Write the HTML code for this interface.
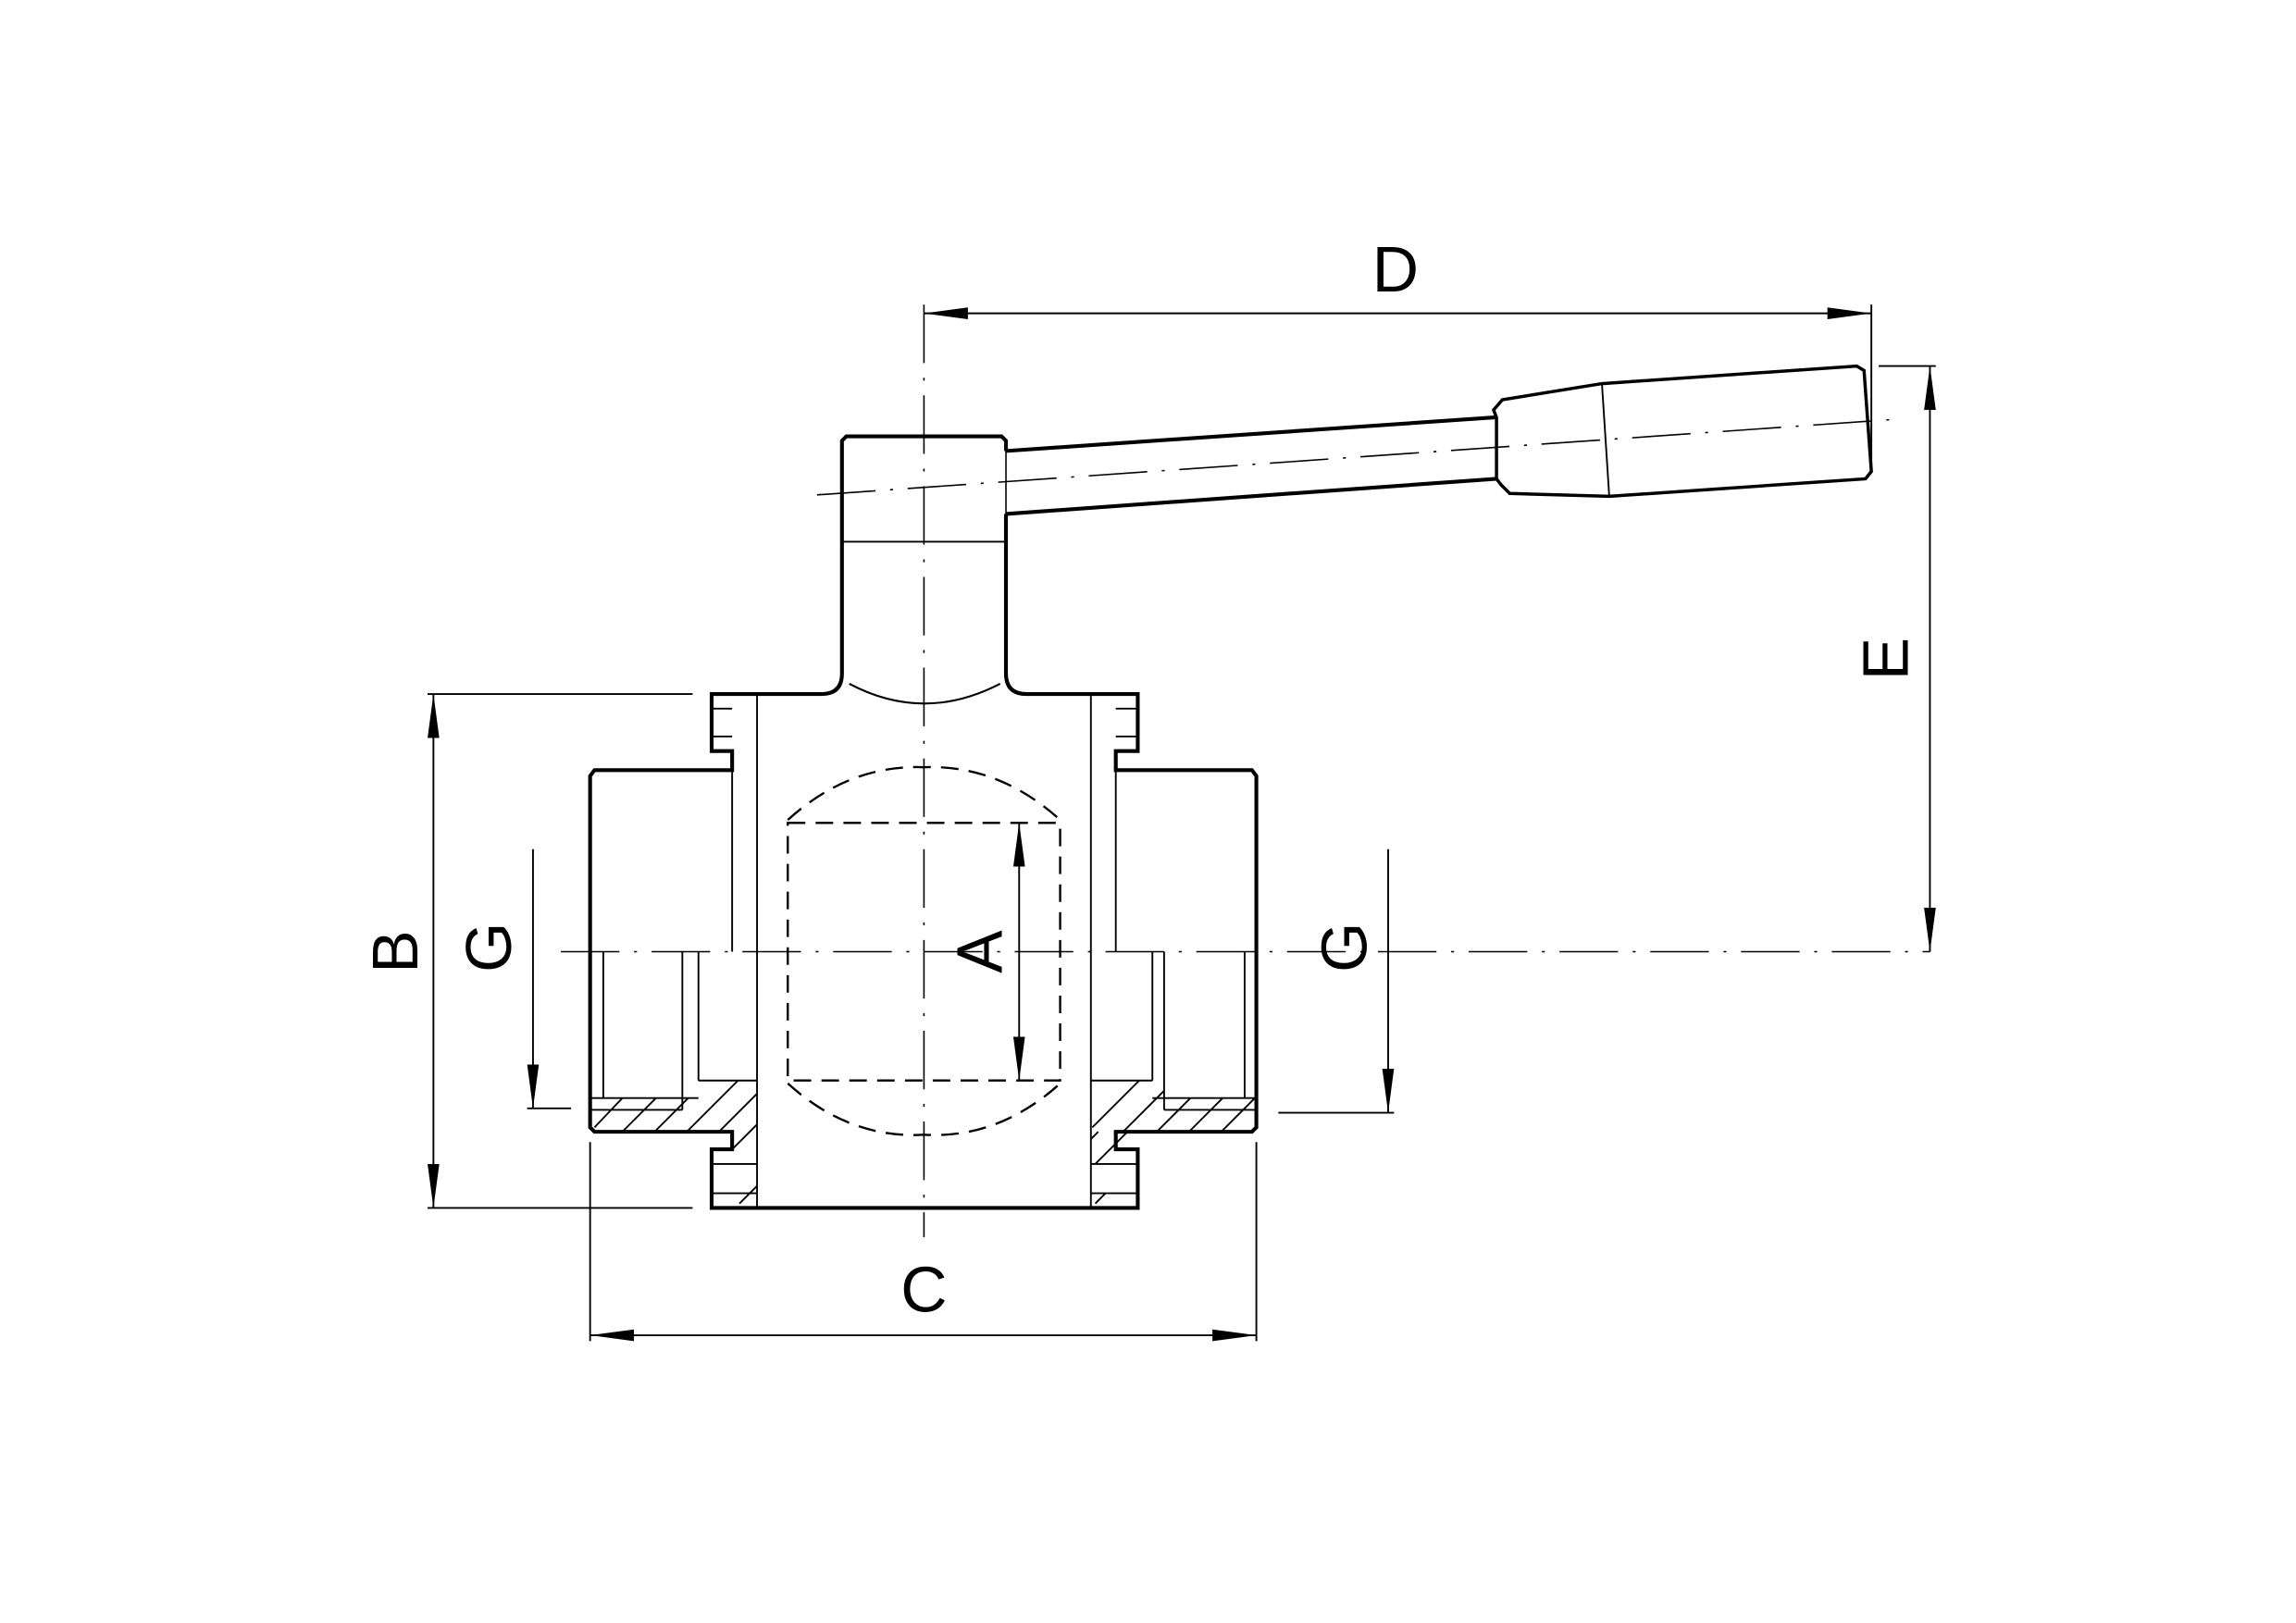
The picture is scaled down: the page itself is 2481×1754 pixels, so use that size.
<!DOCTYPE html>
<html><head><meta charset="utf-8"><style>html,body{margin:0;padding:0;background:#fff}svg{display:block}</style></head>
<body>
<svg width="2481" height="1754" viewBox="0 0 1568 1108.5" xmlns="http://www.w3.org/2000/svg" font-family="Liberation Sans, sans-serif">
<defs>
<marker id="ar" viewBox="0 0 30 10" refX="30" refY="5" markerWidth="30" markerHeight="10" markerUnits="userSpaceOnUse" orient="auto-start-reverse"><path d="M0,1 L30,5 L0,9 z" fill="#000"/></marker>
</defs>
<g fill="none" stroke="#000">
<!-- centre lines -->
<g stroke-width="1" stroke-dasharray="40,10,2,10">
<line x1="631" y1="208" x2="631" y2="845"/>
<line x1="383" y1="650" x2="1318" y2="650"/>
<line x1="558" y1="338" x2="1300" y2="286"/>
</g>
<!-- stem -->
<path stroke-width="2.6" d="M575,460 L575,301 L578,298 L684,298 L687,301 L687,308 M687,351 L687,460 Q687,474 701,474 L777,474 L777,513 L762,513 L762,526 L855,526 L858,530 L858,770 L855,773 L762,773 L762,785 L777,785 L777,825 L486,825 L486,785 L500,785 L500,773 L406,773 L403,770 L403,530 L406,526 L500,526 L500,513 L486,513 L486,474 L561,474 Q575,474 575,460"/>
<line x1="687" y1="308" x2="687" y2="351" stroke-width="1"/>
<line x1="575" y1="370" x2="687" y2="370" stroke-width="1.2"/>
<path stroke-width="1.3" d="M580,467 Q631,494 683,467"/>
<!-- handle -->
<path stroke-width="2.6" d="M687,308 L1022,285 M687,351 L1022,327"/>
<path stroke-width="2.2" d="M1022,285 L1020,280 L1026,273 L1094,262 L1268,250 L1273,253 L1278,322 L1274,327 L1099,339 L1031,337 L1025,331 L1022,327 Z"/>
<line x1="1094" y1="262" x2="1099" y2="339" stroke-width="1.2"/>
<!-- inner body lines -->
<g stroke-width="1.2">
<line x1="517" y1="474" x2="517" y2="825"/>
<line x1="745" y1="474" x2="745" y2="825"/>
<line x1="500" y1="513" x2="500" y2="650"/>
<line x1="762" y1="513" x2="762" y2="650"/>
<line x1="486" y1="484" x2="500" y2="484"/><line x1="486" y1="503" x2="500" y2="503"/>
<line x1="762" y1="484" x2="777" y2="484"/><line x1="762" y1="503" x2="777" y2="503"/>
<line x1="486" y1="795" x2="517" y2="795"/><line x1="486" y1="815" x2="517" y2="815"/>
<line x1="745" y1="795" x2="777" y2="795"/><line x1="745" y1="815" x2="777" y2="815"/>
<line x1="412" y1="650" x2="412" y2="750"/>
<line x1="466" y1="650" x2="466" y2="758"/>
<line x1="477" y1="650" x2="477" y2="738"/>
<line x1="850" y1="650" x2="850" y2="750"/>
<line x1="795" y1="650" x2="795" y2="758"/>
<line x1="787" y1="650" x2="787" y2="738"/>
<line x1="477" y1="738" x2="517" y2="738"/>
<line x1="745" y1="738" x2="787" y2="738"/>
<line x1="403" y1="750" x2="477" y2="750"/><line x1="403" y1="758" x2="466" y2="758"/>
<line x1="787" y1="750" x2="858" y2="750"/><line x1="795" y1="758" x2="858" y2="758"/>
<!-- hatching -->
<path d="M406,770 L425,750 M425,773 L448,750 M447,773 L470,750 M469,773 L504,738 M491,773 L517,747 M500,785 L517,768 M505,822 L517,810 M750,773 L745,778 M746,770 L778,738 M767,773 L795,745 M790,773 L813,750 M812,773 L835,750 M834,773 L857,750 M748,795 L770,773 M748,822 L755,815"/>
</g>
<!-- ball hidden -->
<g stroke-width="1.5" stroke-dasharray="12,7">
<path d="M538,560 Q580,522 631,524 Q682,522 724,560"/>
<path d="M538,740 Q580,778 631,775 Q682,778 724,740"/>
<rect x="538" y="562" width="186" height="176"/>
</g>
<!-- dimensions -->
<g stroke-width="1.2">
<line x1="631" y1="214" x2="1278" y2="214" marker-start="url(#ar)" marker-end="url(#ar)"/>
<line x1="1278" y1="208" x2="1278" y2="322"/>
<line x1="696" y1="562" x2="696" y2="738" marker-start="url(#ar)" marker-end="url(#ar)"/>
<line x1="296" y1="474" x2="296" y2="825" marker-start="url(#ar)" marker-end="url(#ar)"/>
<line x1="292" y1="474" x2="473" y2="474"/><line x1="292" y1="825" x2="473" y2="825"/>
<line x1="403" y1="912" x2="858" y2="912" marker-start="url(#ar)" marker-end="url(#ar)"/>
<line x1="403" y1="780" x2="403" y2="916"/><line x1="858" y1="780" x2="858" y2="916"/>
<line x1="1318" y1="250" x2="1318" y2="650" marker-start="url(#ar)" marker-end="url(#ar)"/>
<line x1="1283" y1="250" x2="1322" y2="250"/>
<line x1="364" y1="580" x2="364" y2="757" marker-end="url(#ar)"/>
<line x1="360" y1="757" x2="390" y2="757"/>
<line x1="948" y1="580" x2="948" y2="760" marker-end="url(#ar)"/>
<line x1="873" y1="760" x2="952" y2="760"/>
</g>
</g>
<g font-size="44" fill="#000" text-anchor="middle">
<text x="953" y="199">D</text>
<text x="631" y="896">C</text>
<text transform="translate(285,650) rotate(-90)">B</text>
<text transform="translate(349,647) rotate(-90)">G</text>
<text transform="translate(933,647) rotate(-90)">G</text>
<text transform="translate(684,650) rotate(-90)">A</text>
<text transform="translate(1303,450) rotate(-90)">E</text>
</g>
</svg>
</body></html>
